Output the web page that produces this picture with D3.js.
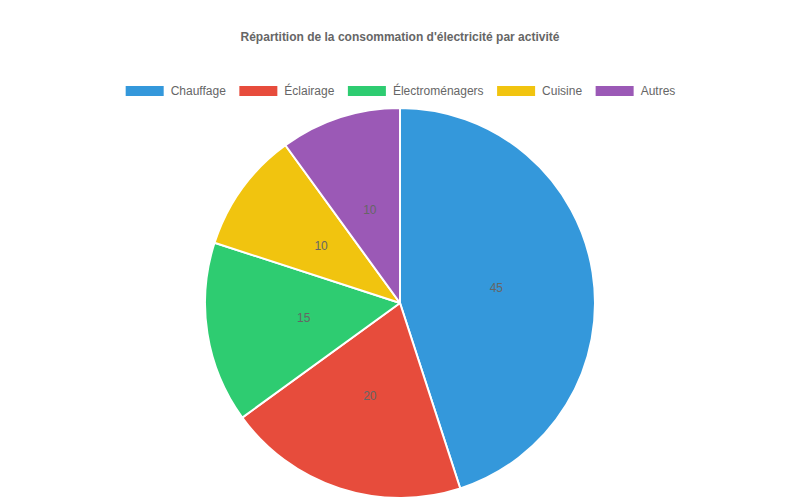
<!DOCTYPE html>
<html>
<head>
<meta charset="utf-8">
<script src="https://cdn.jsdelivr.net/npm/d3@7"></script>
<style>
html,body{margin:0;padding:0;background:#fff;}
svg{display:block;font-family:"Liberation Sans", Arial, Helvetica, sans-serif;}
</style>
</head>
<body>
<svg id="chart" width="800" height="500"></svg>
<script>
const title = "Répartition de la consommation d'électricité par activité";
const categories = ["Chauffage", "Éclairage", "Électroménagers", "Cuisine", "Autres"];
const values = [45, 20, 15, 10, 10];
const colors = ["#3498db", "#e74c3c", "#2ecc71", "#f1c40f", "#9b59b6"];

const W = 800, H = 500;
const svg = d3.select("#chart");

// Title
svg.append("text")
  .attr("x", W / 2).attr("y", 41)
  .attr("text-anchor", "middle")
  .attr("font-size", 12).attr("font-weight", "bold")
  .attr("fill", "#666")
  .text(title);

// Legend
const legend = svg.append("g");
const items = legend.selectAll("g").data(categories).join("g");
items.append("rect")
  .attr("y", 86).attr("width", 38).attr("height", 10)
  .attr("fill", (d, i) => colors[i]);
items.append("text")
  .attr("y", 95).attr("font-size", 12).attr("fill", "#666")
  .text(d => d);
let widths = [];
items.select("text").each(function () { widths.push(this.getComputedTextLength()); });
const boxW = 40, gapText = 6, gapItem = 12.5;
const total = d3.sum(widths, w => boxW + gapText + w) + gapItem * (widths.length - 1);
let x = W / 2 - total / 2;
items.each(function (d, i) {
  const g = d3.select(this);
  g.select("rect").attr("x", x + 1);
  g.select("text").attr("x", x + boxW + gapText);
  x += boxW + gapText + widths[i] + gapItem;
});

// Pie
const cx = 400, cy = 303, r = 195;
const pie = d3.pie().sort(null).value(d => d)(values);
const arc = d3.arc().innerRadius(0).outerRadius(r);
const labelArc = d3.arc().innerRadius(r / 2).outerRadius(r / 2);
const g = svg.append("g").attr("transform", `translate(${cx},${cy})`);
g.selectAll("path").data(pie).join("path")
  .attr("d", arc)
  .attr("fill", (d, i) => colors[i])
  .attr("stroke", "#fff").attr("stroke-width", 2)
  .attr("stroke-linejoin", "round");
g.selectAll("text.lbl").data(pie).join("text")
  .attr("class", "lbl")
  .attr("transform", d => `translate(${labelArc.centroid(d)})`)
  .attr("text-anchor", "middle").attr("dy", "0.35em")
  .attr("font-size", 12).attr("fill", "#666")
  .text(d => d.data);
</script>
</body>
</html>
